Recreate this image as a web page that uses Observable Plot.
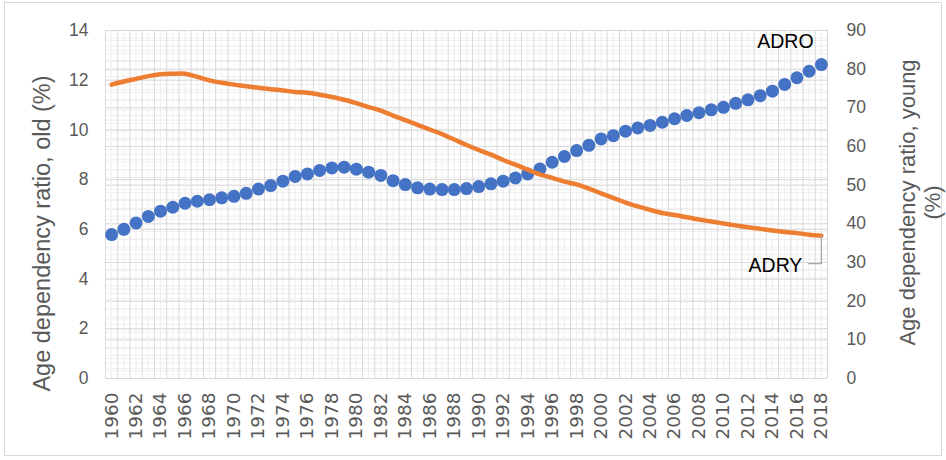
<!DOCTYPE html>
<html><head><meta charset="utf-8">
<script src="https://cdn.jsdelivr.net/npm/d3@7"></script>
<script src="https://cdn.jsdelivr.net/npm/@observablehq/plot@0.6"></script>
<style>
html,body{margin:0;padding:0;background:#fff;}
#chart{position:relative;width:946px;height:460px;overflow:hidden;background:#fff;}
#chart svg{position:absolute;left:0;top:0;}
#frame{position:absolute;left:4px;top:2px;width:936px;height:452px;border:1px solid #d9d9d9;}
</style></head><body><div id="chart"><div id="frame"></div></div>
<script>
const years = [1960,1961,1962,1963,1964,1965,1966,1967,1968,1969,1970,1971,1972,1973,1974,1975,1976,1977,1978,1979,
1980,1981,1982,1983,1984,1985,1986,1987,1988,1989,1990,1991,1992,1993,1994,1995,1996,1997,1998,1999,
2000,2001,2002,2003,2004,2005,2006,2007,2008,2009,2010,2011,2012,2013,2014,2015,2016,2017,2018];
const adroValues = [5.79,6.00,6.26,6.52,6.73,6.89,7.05,7.13,7.19,7.27,7.33,7.45,7.62,7.76,7.94,8.13,8.23,8.37,8.47,8.50,
8.42,8.30,8.17,7.96,7.80,7.67,7.62,7.60,7.60,7.64,7.72,7.83,7.94,8.07,8.23,8.43,8.70,8.93,9.17,9.38,
9.64,9.77,9.95,10.08,10.18,10.31,10.45,10.58,10.69,10.81,10.91,11.07,11.21,11.38,11.56,11.83,12.10,12.36,12.63];
const adryValues = [76.0,76.8,77.5,78.2,78.7,78.8,78.8,78.0,77.1,76.5,76.0,75.6,75.2,74.8,74.5,74.1,73.9,73.4,72.8,72.1,
71.2,70.2,69.3,68.0,66.8,65.6,64.4,63.2,61.8,60.4,59.1,57.9,56.5,55.3,54.0,52.8,51.9,50.9,50.2,49.1,
47.9,46.7,45.5,44.5,43.6,42.8,42.3,41.7,41.1,40.6,40.1,39.6,39.1,38.7,38.3,37.9,37.6,37.2,36.9];
const labelYears = [1960,1962,1964,1966,1968,1970,1972,1974,1976,1978,1980,1982,1984,1986,1988,1990,1992,1994,1996,1998,
2000,2002,2004,2006,2008,2010,2012,2014,2016,2018];
const leftTicks = [0,2,4,6,8,10,12,14];
const rightTicks = [0,10,20,30,40,50,60,70,80,90];
const leftTitle = "Age dependency ratio, old (%)";
const rightTitle = "Age dependency ratio, young\n(%)";
const seriesLabels = ["ADRO","ADRY"];

const adro = years.map((year,i)=>({year, v:adroValues[i]}));
const adry = years.map((year,i)=>({year, v:adryValues[i]}));

const W=946,H=460,mL=105,mR=119,mT=30,mB=82;
const xDomain=[years[0]-0.5, years[years.length-1]+0.5];
const boundaries = years.map(y=>y-0.5).concat([years[years.length-1]+0.5]);
const leftMinor = d3.range(0, 14.001, 0.4);
const rightMinor = d3.range(0, 90.001, 2);
const base = {width:W,height:H,marginLeft:mL,marginRight:mR,marginTop:mT,marginBottom:mB,
  style:{background:"transparent", fontFamily:"Liberation Sans", overflow:"visible"}};
const grey="#595959";

// layer 1: right-axis grid, ticks, title
const pR = Plot.plot({...base, x:{domain:xDomain, axis:null}, y:{domain:[0,90]}, marks:[
  Plot.ruleY(rightMinor,{stroke:"#efefef"}),
  Plot.ruleY(rightTicks,{stroke:"#d9d9d9"}),
  Plot.axisY({anchor:"right", ticks:rightTicks, tickSize:0, tickPadding:19, fontSize:17.5, fill:grey, label:null}),
  Plot.text([rightTitle],{text:d=>d, frameAnchor:"right", textAnchor:"middle", dx:92, dy:-2, rotate:-90, fontSize:22, fill:grey, lineHeight:1.12})
]});
// layer 2: left-axis grid, x axis, blue dots
const pL = Plot.plot({...base, x:{domain:xDomain}, y:{domain:[0,14]}, marks:[
  Plot.ruleY(leftMinor,{stroke:"#efefef"}),
  Plot.ruleX(years,{stroke:"#efefef"}),
  Plot.ruleX(boundaries,{stroke:"#d9d9d9"}),
  Plot.ruleY(leftTicks,{stroke:"#d9d9d9"}),
  Plot.axisY({ticks:leftTicks, tickSize:0, tickPadding:17, fontSize:17.5, fill:grey, label:null}),
  Plot.axisX({ticks:labelYears, tickFormat:d=>String(d), tickRotate:-90, tickSize:0, tickPadding:14, fontSize:18.5, fontFamily:"DejaVu Sans", fill:grey, label:null}),
  Plot.text([leftTitle],{text:d=>d, frameAnchor:"left", textAnchor:"middle", dx:-63, dy:29, rotate:-90, fontSize:23.5, fill:grey}),
  Plot.dot(adro,{x:"year", y:"v", r:6.5, fill:"#4472C4"}),
  Plot.text([adro[adro.length-1]],{x:"year", y:"v", text:()=>seriesLabels[0], dx:-36, dy:-23, fontSize:19.5, fill:"#000"})
]});
// layer 3: orange line, ADRY label
const lastY = adry[adry.length-1];
const leader = [{year:lastY.year, v:lastY.v},{year:lastY.year, v:lastY.v-7.2},{year:lastY.year-1.05, v:lastY.v-7.2}];
const pT = Plot.plot({...base, x:{domain:xDomain, axis:null}, y:{domain:[0,90], axis:null}, marks:[
  Plot.line(adry,{x:"year", y:"v", stroke:"#ED7D31", strokeWidth:4.5, curve:"catmull-rom"}),
  Plot.line(leader,{x:"year", y:"v", stroke:"#a6a6a6", strokeWidth:1.3}),
  Plot.text([lastY],{x:"year", y:"v", text:()=>seriesLabels[1], dx:-19, dy:30, textAnchor:"end", fontSize:19.5, fill:"#000"})
]});
const c=document.getElementById("chart");
c.appendChild(pR); c.appendChild(pL); c.appendChild(pT);
</script></body></html>
